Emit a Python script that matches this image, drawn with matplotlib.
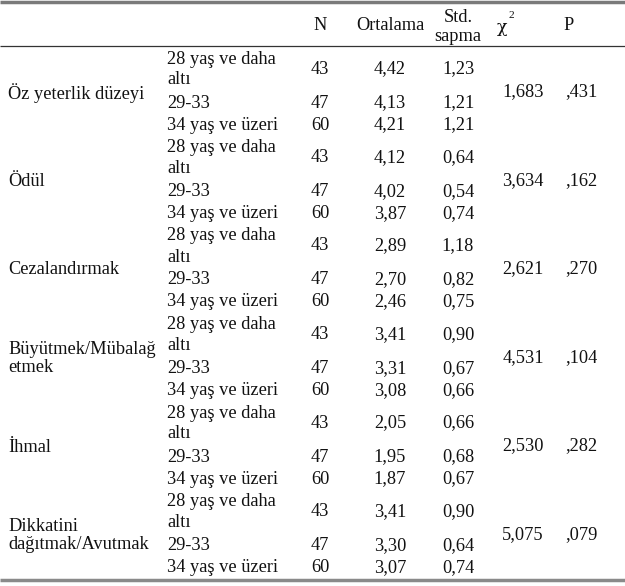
import matplotlib
matplotlib.use("Agg")
import matplotlib.pyplot as plt

plt.rcParams['font.family'] = ['Liberation Serif', 'DejaVu Serif']

groups = ["Öz yeterlik düzeyi", "Ödül", "Cezalandırmak",
          "Büyütmek/Mübalağ\netmek", "İhmal", "Dikkatini\ndağıtmak/Avutmak"]
subgroups = ["28 yaş ve daha\naltı", "29-33", "34 yaş ve üzeri"]
headers = ["N", "Ortalama", "Std.\nsapma", "χ", "P"]
n_values = [43, 47, 60]
means = [[4.42, 4.13, 4.21], [4.12, 4.02, 3.87], [2.89, 2.70, 2.46],
         [3.41, 3.31, 3.08], [2.05, 1.95, 1.87], [3.41, 3.30, 3.07]]
sds = [[1.23, 1.21, 1.21], [0.64, 0.54, 0.74], [1.18, 0.82, 0.75],
       [0.90, 0.67, 0.66], [0.66, 0.68, 0.67], [0.90, 0.64, 0.74]]
chi2 = [1.683, 3.634, 2.621, 4.531, 2.530, 5.075]
pvals = [0.431, 0.162, 0.270, 0.104, 0.282, 0.079]

W, H = 625, 586
fig = plt.figure(figsize=(W / 100, H / 100), dpi=100)
ax = fig.add_axes([0, 0, 1, 1])
ax.set_xlim(0, W)
ax.set_ylim(H, 0)
ax.axis('off')

fs = 13.2
col = '#111111'

def fmt(v, d=2):
    return f"{v:.{d}f}".replace('.', ',')

def fmtp(v):
    return fmt(v, 3)[1:]

# horizontal rules
ax.plot([0, W], [2, 2], color='#7a7a7a', lw=2.5, solid_capstyle='butt')
ax.plot([0, W], [46, 46], color='#333333', lw=0.9, solid_capstyle='butt')
ax.plot([0, W], [580, 580], color='#8a8a8a', lw=2.5, solid_capstyle='butt')

# header
hx = [320, 390, 458, 502, 569]
for x, h in zip(hx, headers):
    if h.startswith('Std'):
        ax.text(x, 27, h, ha='center', va='center', fontsize=fs, color=col, linespacing=1.1)
    elif h == 'χ':
        ax.text(x, 28, h, ha='center', va='center', fontsize=fs * 0.95, color=col,
                family=['DejaVu Serif'])
        ax.text(x + 9, 16, "2", ha='center', va='center', fontsize=fs * 0.62, color=col)
    else:
        ax.text(x, 25, h, ha='center', va='center', fontsize=fs, color=col)

step = 88.5
for i, g in enumerate(groups):
    g0 = 48 + step * i
    ax.text(8, g0 + 45, g, ha='left', va='center', fontsize=fs, color=col, linespacing=1.15)
    rows_y = [g0 + 21, g0 + 55, g0 + 77]
    for j, s in enumerate(subgroups):
        y = rows_y[j]
        if j == 0:
            ax.text(167, g0 + 11, "28 yaş ve daha", ha='left', va='center', fontsize=fs, color=col)
            ax.text(167, g0 + 32, "altı", ha='left', va='center', fontsize=fs, color=col)
        else:
            ax.text(167, y, s, ha='left', va='center', fontsize=fs, color=col)
        ax.text(320, y, str(n_values[j]), ha='center', va='center', fontsize=fs, color=col)
        ax.text(390, y, fmt(means[i][j]), ha='center', va='center', fontsize=fs, color=col)
        ax.text(458, y, fmt(sds[i][j]), ha='center', va='center', fontsize=fs, color=col)
    ax.text(523, g0 + 44, fmt(chi2[i], 3), ha='center', va='center', fontsize=fs, color=col)
    ax.text(581, g0 + 44, fmtp(pvals[i]), ha='center', va='center', fontsize=fs, color=col)

fig.savefig('out.png', dpi=100, facecolor='white')
